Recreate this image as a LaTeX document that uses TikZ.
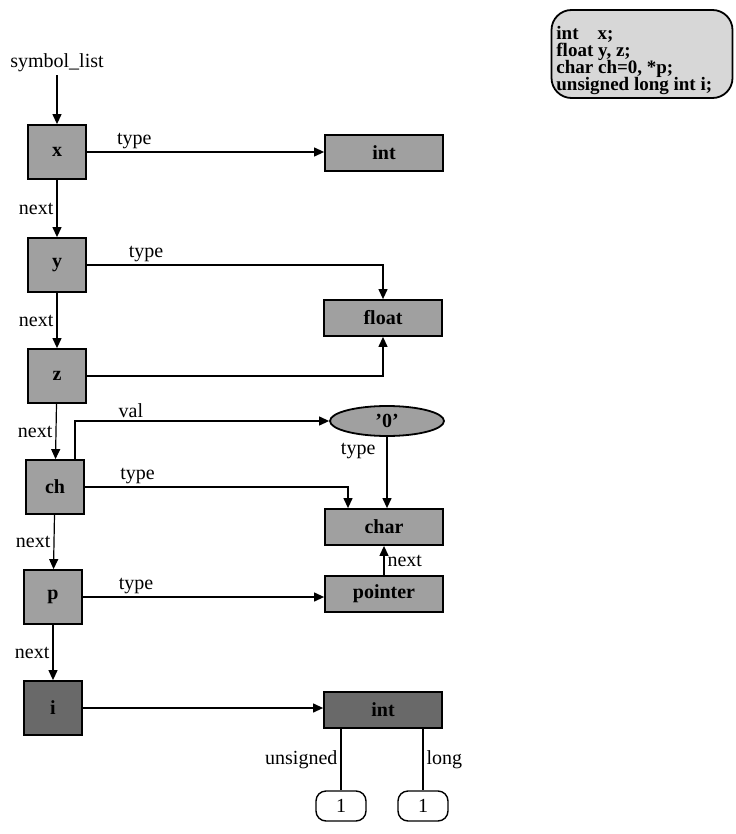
\documentclass[tikz,border=0pt]{standalone}
\usepackage{fontspec}
\setmainfont{Liberation Serif}
\usetikzlibrary{arrows.meta,shapes.geometric}
\definecolor{grain}{RGB}{160,160,160}
\definecolor{soot}{RGB}{105,105,105}
\definecolor{paper}{RGB}{215,215,215}
\newcommand\declfont{\fontsize{9.5}{8.5}\selectfont\bfseries\lineskiplimit=-6pt\relax}

\begin{document}
\begin{tikzpicture}[
  x=0.5pt, y=-0.5pt,
  font=\fontsize{10}{12}\selectfont,
  sym/.style={draw, line width=0.9pt, fill=grain, minimum width=29pt, minimum height=27pt,
              inner sep=1pt, font=\fontsize{10}{12}\selectfont\bfseries},
  kind/.style={draw, line width=0.9pt, fill=grain, minimum width=59pt, minimum height=18pt,
               inner sep=1pt, font=\fontsize{10}{12}\selectfont\bfseries},
  leaf/.style={draw, line width=0.7pt, rounded corners=5pt, minimum width=25pt, minimum height=15pt},
  arr/.style={-{Triangle[length=5pt,width=4.5pt]}, line width=0.6pt},
  lbl/.style={font=\fontsize{10}{12}\selectfont, inner sep=1.5pt},
]
  \useasboundingbox (0,0) rectangle (735,834);

  % Symbol list
  \node[lbl] (head) at (57,63) {symbol\_list};
  \node[sym] (x)  at (57,152) {x};
  \node[sym] (y)  at (57,265) {y};
  \node[sym] (z)  at (57,376) {z};
  \node[sym] (ch) at (55,487) {ch};
  \node[sym] (p)  at (53,597) {p};
  \node[sym, fill=soot] (i) at (53,708) {i};

  % Type nodes
  \node[kind] (int)   at (384,153) {int};
  \node[kind] (float) at (383,318) {float};
  \node[ellipse, draw, line width=0.9pt, fill=grain, minimum width=57pt, minimum height=15pt,
        inner sep=0pt, font=\fontsize{10}{12}\selectfont\bfseries] (nul) at (387,421) {'0'};
  \node[kind] (char)    at (384,527) {char};
  \node[kind] (pointer) at (384,594) {pointer};
  \node[kind, fill=soot] (int2) at (383,710) {int};
  \node[leaf] (one1) at (341,806) {1};
  \node[leaf] (one2) at (423,806) {1};

  % Declarations
  \node[draw, line width=0.9pt, fill=paper, rounded corners=10pt, minimum width=90.5pt,
        minimum height=44pt] (decl) at (642,54) {};
  \node[align=left, inner sep=0pt, anchor=north west, font=\declfont] (decltext) at (556,26)
    {int\quad x;\\float y, z;\\char ch=0, *p;\\unsigned long int i;};

  % next links
  \draw[arr] (head) -- (x);
  \draw[arr] (x) -- (y) node[lbl, midway, left] {next};
  \draw[arr] (y) -- (z) node[lbl, midway, left] {next};
  \draw[arr] (z) -- (ch) node[lbl, midway, left] {next};
  \draw[arr] (ch) -- (p) node[lbl, midway, left] {next};
  \draw[arr] (p.south) -- (i.north) node[lbl, midway, left] {next};

  % type links
  \draw[arr] (x.east) -- (x.east -| int.west) node[lbl, pos=0.2, above] {type};
  \draw[arr] (y.east) -| (float.north) node[lbl, pos=0.1, above] {type};
  \draw[arr] (z.east) -| (float.south);
  \draw[arr] ([xshift=10pt]ch.north) |- (nul.west) node[lbl, pos=0.61, above] {val};
  \draw[arr] (ch.east) -| ([xshift=-18pt]char.north) node[lbl, pos=0.1, above] {type};
  \draw[arr] (nul.south) -- (nul.south |- char.north)
    node[lbl, pos=0.2, left, xshift=-4pt] {type};
  \draw[arr] (pointer.north) -- (char.south) node[lbl, midway, right] {next};
  \draw[arr] (p.east) -- (p.east -| pointer.west) node[lbl, pos=0.22, above] {type};
  \draw[arr] (i.east) -- (i.east -| int2.west);

  % int modifiers
  \draw[line width=0.6pt] (int2.south -| one1.north) -- (one1.north) node[lbl, midway, left] {unsigned};
  \draw[line width=0.6pt] (int2.south -| one2.north) -- (one2.north) node[lbl, midway, right] {long};
\end{tikzpicture}
\end{document}
